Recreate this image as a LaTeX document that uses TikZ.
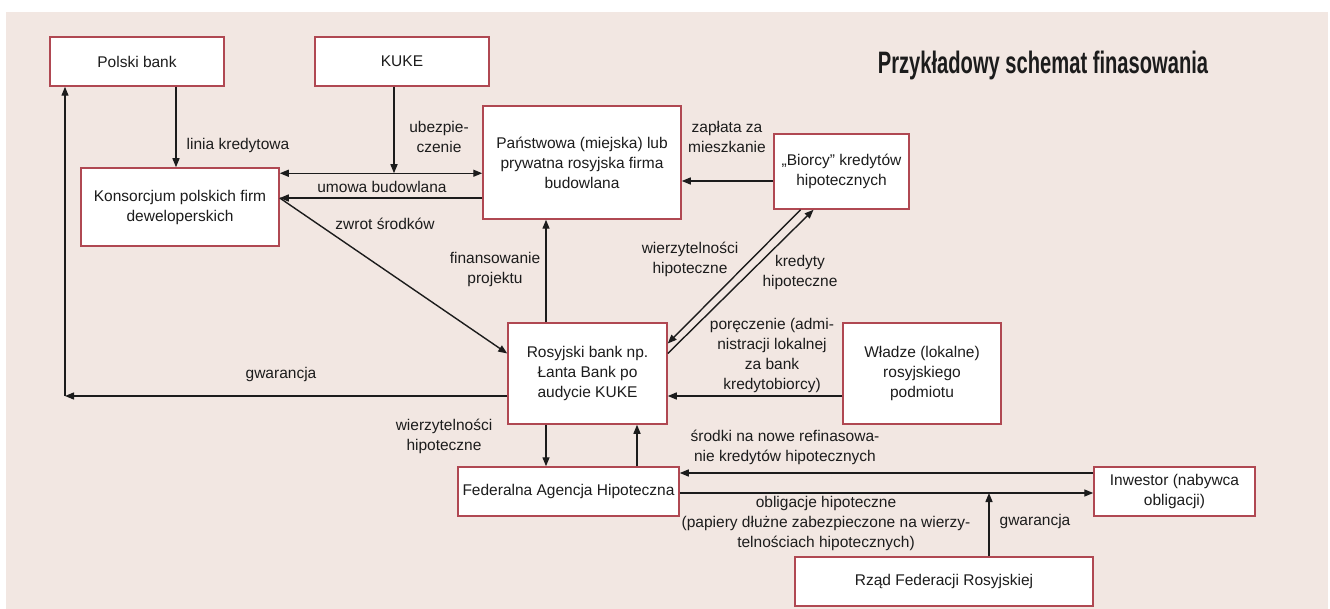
\documentclass[tikz,border=0pt]{standalone}
\usepackage{fontspec}
\setmainfont{Liberation Sans}
\newfontfamily\titlefont[FakeStretch=0.65]{Liberation Sans}
\usetikzlibrary{arrows.meta}
\definecolor{panel}{RGB}{242,231,226}
\definecolor{boxred}{RGB}{176,72,82}
\definecolor{ink}{RGB}{28,28,28}

\begin{document}
\begin{tikzpicture}[
  x=1pt, y=-1pt,
  font=\fontsize{15.5}{20}\selectfont,
  box/.style={draw=boxred, line width=1.5pt, fill=white, align=center,
              inner sep=2pt, text=ink},
  arr/.style={-{Triangle[length=9pt,width=7pt]}, line width=1.4pt, draw=ink},
  arrs/.style={{Triangle[length=9pt,width=7pt]}-{Triangle[length=9pt,width=7pt]},
               line width=1.4pt, draw=ink},
  lbl/.style={align=center, text=ink, inner sep=0pt},
]
% ---- Background panel ----
\useasboundingbox (0,0) rectangle (1330,609);
\fill[panel] (6,12) rectangle (1328,609);

% ---- Title ----
\node[text=ink, font=\titlefont\bfseries\fontsize{31}{31}\selectfont] (title)
  at (1043,65) {Przykładowy schemat finasowania};

% ---- Boxes ----
\node[box, minimum width=174, minimum height=49] (polski) at (137,61.5) {Polski bank};
\node[box, minimum width=174, minimum height=49] (kuke)   at (402,61.5) {KUKE};
\node[box, minimum width=198, minimum height=78] (konsorcjum) at (180,207)
  {Konsorcjum polskich firm\\deweloperskich};
\node[box, minimum width=198, minimum height=113] (panstwowa) at (582,162.5)
  {Państwowa (miejska) lub\\prywatna rosyjska firma\\budowlana};
\node[box, minimum width=135, minimum height=75] (biorcy) at (841.5,171.5)
  {„Biorcy” kredytów\\hipotecznych};
\node[box, minimum width=159, minimum height=101] (rosyjski) at (587.5,373.5)
  {Rosyjski bank np.\\Łanta Bank po\\audycie KUKE};
\node[box, minimum width=158, minimum height=101] (wladze) at (922,373.5)
  {Władze (lokalne)\\rosyjskiego\\podmiotu};
\node[box, minimum width=221, minimum height=49] (federalna) at (568.5,491.5)
  {Federalna Agencja Hipoteczna};
\node[box, minimum width=161, minimum height=49] (inwestor) at (1174.5,491.5)
  {Inwestor (nabywca\\obligacji)};
\node[box, minimum width=298, minimum height=49] (rzad) at (944,581.5)
  {Rząd Federacji Rosyjskiej};

% ---- Connector ends ----
\coordinate (pbS) at ([xshift=39pt]polski.south);
\coordinate (pbG) at ([xshift=-72pt]polski.south);
\coordinate (kuS) at ([xshift=-8pt]kuke.south);
\coordinate (umL) at ([yshift=-6pt]konsorcjum.north east);
\coordinate (kR)  at ([yshift=9pt]konsorcjum.east);
\coordinate (biW) at ([yshift=-9.5pt]biorcy.west);
\coordinate (rbN) at ([xshift=-41.5pt]rosyjski.north);
\coordinate (biA) at ([xshift=-41pt]biorcy.south);
\coordinate (biB) at ([xshift=-28pt]biorcy.south);
\coordinate (rbA) at ([yshift=30pt]rosyjski.east);
\coordinate (rbB) at ([yshift=20pt]rosyjski.east);
\coordinate (rbZ) at ([yshift=20pt]rosyjski.west);
\coordinate (rbG) at ([yshift=-22.5pt]rosyjski.west);
\coordinate (rbE) at ([yshift=-22.5pt]rosyjski.east);
\coordinate (wlW) at ([yshift=-22.5pt]wladze.west);
\coordinate (gwC) at (rbG -| pbG);
\coordinate (rbD) at ([xshift=-41.5pt]rosyjski.south);
\coordinate (rbU) at ([xshift=49.5pt]rosyjski.south);
\coordinate (inA) at ([yshift=18.5pt]inwestor.west);
\coordinate (inB) at ([yshift=-1.5pt]inwestor.west);
\coordinate (rzN) at ([xshift=45pt]rzad.north);

% ---- Arrows ----
\foreach \a/\b in {pbS/pbS |- konsorcjum.north, kuS/kuS |- umL,
                   kR -| panstwowa.west/kR, kR/rbZ,
                   biW/biW -| panstwowa.east, rbN/rbN |- panstwowa.south,
                   biA/rbA, rbB/biB, rbG/gwC, gwC/pbG, wlW/rbE,
                   rbD/rbD |- federalna.north, rbU |- federalna.north/rbU,
                   inA/inA -| federalna.east, inB -| federalna.east/inB,
                   rzN/rzN |- inB}
  \draw[arr] (\a) -- (\b);
\draw[arrs] (umL) -- (umL -| panstwowa.west);

% ---- Labels ----
\node[lbl] (lLinia)  at (238,145) {linia kredytowa};
\node[lbl] (lUbezp)  at (439,137) {ubezpie-\\czenie};
\node[lbl] (lUmowa)  at (382,187) {umowa budowlana};
\node[lbl] (lZwrot)  at (385,224) {zwrot środków};
\node[lbl] (lZaplata) at (727,137) {zapłata za\\mieszkanie};
\node[lbl] (lFinans) at (495,269) {finansowanie\\projektu};
\node[lbl] (lWierz)  at (690,259) {wierzytelności\\hipoteczne};
\node[lbl] (lKred)   at (800,272) {kredyty\\hipoteczne};
\node[lbl] (lPorecz) at (772,355)
  {poręczenie (admi-\\nistracji lokalnej\\za bank\\kredytobiorcy)};
\node[lbl] (lGwar)   at (281,374) {gwarancja};
\node[lbl] (lWierz2) at (444,436) {wierzytelności\\hipoteczne};
\node[lbl] (lSrodki) at (785,447)
  {środki na nowe refinasowa-\\nie kredytów hipotecznych};
\node[lbl] (lOblig)  at (826,523)
  {obligacje hipoteczne\\(papiery dłużne zabezpieczone na wierzy-\\telnościach hipotecznych)};
\node[lbl] (lGwar2)  at (1035,521) {gwarancja};
\end{tikzpicture}
\end{document}
